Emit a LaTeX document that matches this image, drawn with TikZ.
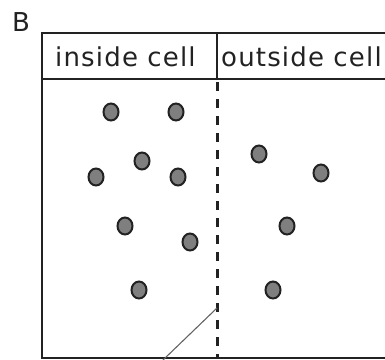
\documentclass[tikz,border=0pt]{standalone}
\usepackage{fontspec}
\setmainfont{DejaVu Sans}
\newfontfamily\hdrfont[LetterSpace=4.5]{DejaVu Sans}
\usetikzlibrary{shapes.geometric}
\definecolor{ink}{HTML}{222222}
\definecolor{dotfill}{HTML}{7F7F7F}
\tikzset{
  boxline/.style={draw=ink, line width=2pt},
  memline/.style={draw=ink, line width=3pt, dash pattern=on 9pt off 8pt},
  hdrtext/.style={anchor=base west, inner sep=0pt, text=ink, font=\hdrfont\fontsize{26}{30}\selectfont},
  molecule/.style={ellipse, draw=ink, fill=dotfill, line width=2pt, minimum width=15pt, minimum height=17pt, inner sep=0pt},
  channel/.style={draw=ink!70, line width=1.1pt}
}
\begin{document}
\begin{tikzpicture}[x=1pt,y=-1pt]
\useasboundingbox (0,0) rectangle (385,359);
% label
\node[anchor=base west, inner sep=0pt, text=ink, font=\fontsize{26}{30}\selectfont] (lab) at (12,31) {B};
% frame
\coordinate (tl) at (42,33);
\coordinate (tr) at (386,33);
\coordinate (hl) at (42,79);
\coordinate (hr) at (386,79);
\coordinate (bl) at (42,358);
\coordinate (br) at (386,358);
\coordinate (dt) at (217,33);
\coordinate (dh) at (217,79);
\coordinate (db) at (217,358);
\draw[boxline] (tr) -- (tl) -- (bl) -- (br);
\draw[boxline] (hl) -- (hr);
\draw[boxline] (dt) -- (dh);
\draw[memline] (217,82) -- (db);
% headers
\node[hdrtext] (hin) at (55,66) {inside cell};
\node[hdrtext] (hout) at (221,66) {outside cell};
% diagonal line
\coordinate (c1) at (217,308);
\coordinate (c2) at (163,360);
\draw[channel] (c1) -- (c2);
% molecules inside
\node[molecule] (m1) at (111,112) {};
\node[molecule] (m2) at (176,112) {};
\node[molecule] (m3) at (142,161) {};
\node[molecule] (m4) at (96,177) {};
\node[molecule] (m5) at (178,177) {};
\node[molecule] (m6) at (125,226) {};
\node[molecule] (m7) at (190,242) {};
\node[molecule] (m8) at (139,290) {};
% molecules outside
\node[molecule] (n1) at (259,154) {};
\node[molecule] (n2) at (321,173) {};
\node[molecule] (n3) at (287,226) {};
\node[molecule] (n4) at (273,290) {};
\end{tikzpicture}
\end{document}
